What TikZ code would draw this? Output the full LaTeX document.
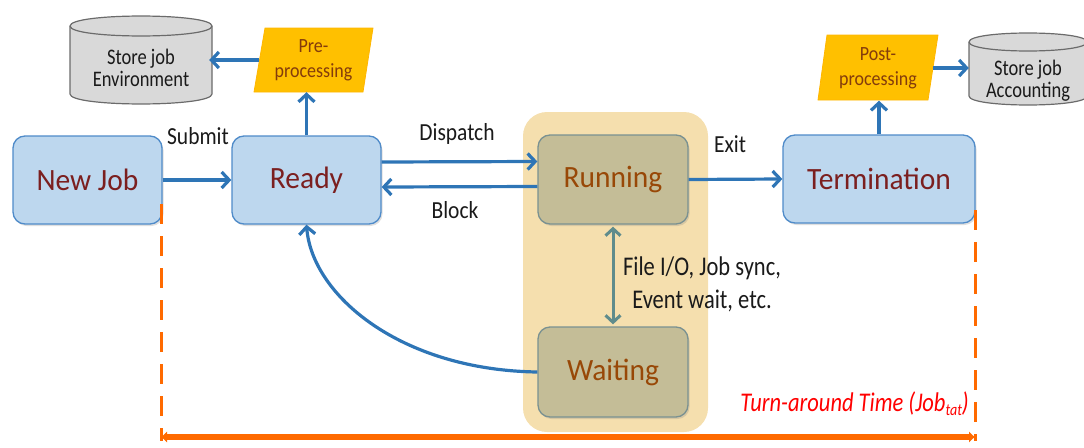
\documentclass[tikz,border=0pt]{standalone}
\usepackage{fontspec}
\usepackage{graphicx}
\setmainfont{Carlito}
\usetikzlibrary{arrows.meta,shadows}

\definecolor{boxfill}{HTML}{BDD7EE}
\definecolor{boxline}{HTML}{4F8BC9}
\definecolor{flowblue}{HTML}{2E75B6}
\definecolor{runfill}{HTML}{C4BD97}
\definecolor{runline}{HTML}{7A9191}
\definecolor{syncline}{HTML}{5F8C8C}
\definecolor{hlfill}{HTML}{F5DFAE}
\definecolor{gold}{HTML}{FFC000}
\definecolor{cylfill}{HTML}{D9D9D9}
\definecolor{cylline}{HTML}{6B6B6B}
\definecolor{boxtext}{HTML}{7B1F1F}
\definecolor{runtext}{HTML}{984807}
\definecolor{goldtext}{HTML}{843C0C}
\definecolor{tatorange}{HTML}{FF6A00}
\definecolor{labeltext}{HTML}{1A1A1A}

% text set slightly taller than its natural proportions
\newcommand{\vstr}[2]{\scalebox{1}[#1]{#2}}
\newcommand{\vstack}[2]{\scalebox{1}[#1]{\begin{tabular}{@{}c@{}}#2\end{tabular}}}

\begin{document}
\begin{tikzpicture}[x=1pt,y=-1pt,
  statebox/.style={rounded corners=12pt, inner sep=0pt, line width=1.3pt,
    drop shadow={opacity=0.25, shadow xshift=1.5pt, shadow yshift=-2pt},
    font=\fontsize{29.5}{32}\selectfont},
  bluebox/.style={statebox, fill=boxfill, draw=boxline, text=boxtext},
  graybox/.style={statebox, fill=runfill, draw=runline, text=runtext},
  flow/.style={draw=flowblue, line width=3.2pt, -{Straight Barb[length=7.5pt,width=16pt]}},
  sync/.style={draw=syncline, line width=3pt, {Straight Barb[length=7pt,width=15pt]}-{Straight Barb[length=7pt,width=15pt]}},
  lbl/.style={text=labeltext, inner sep=0pt, font=\fontsize{21.5}{24}\selectfont},
  cyltxt/.style={inner sep=0pt, text=labeltext, font=\fontsize{18.5}{17.5}\selectfont},
  goldtxt/.style={inner sep=0pt, text=goldtext, font=\fontsize{18}{22.3}\selectfont},
  goldshape/.style={fill=gold, draw=gold!85!orange, line width=0.8pt},
  cylshape/.style={fill=cylfill, draw=cylline, line width=1.2pt},
  tatdash/.style={draw=tatorange, line width=3pt, dash pattern=on 20pt off 12pt},
  tatarrow/.style={draw=tatorange, line width=6pt, {Latex[length=6pt,width=12pt]}-{Latex[length=6pt,width=12pt]}}
]
\useasboundingbox (0,0) rectangle (1084,447);

% highlight behind the active states
\fill[hlfill, rounded corners=24pt] (523,112) rectangle (708,432);

% states
\node[bluebox, minimum width=149pt, minimum height=88pt] (new) at (87.5,180) {\vstr{1.05}{New Job}};
\node[bluebox, minimum width=149pt, minimum height=88pt] (ready) at (306.5,180) {\vstr{1.05}{Ready}};
\node[graybox, minimum width=150pt, minimum height=89pt] (run) at (613,179.5) {\vstr{1.05}{Running}};
\node[graybox, minimum width=150pt, minimum height=90pt] (wait) at (613,372) {\vstr{1.05}{Waiting}};
\node[bluebox, minimum width=192pt, minimum height=88pt] (term) at (879,179) {\vstr{1.05}{Termination}};

% storage cylinders
\path[cylshape] (70,26) -- (70,94) .. controls (70,107.3) and (212,107.3) .. (212,94)
  -- (212,26) .. controls (212,12.7) and (70,12.7) .. (70,26) -- cycle;
\draw[cylline, line width=1.2pt] (70,26) .. controls (70,39.3) and (212,39.3) .. (212,26);
\node[minimum width=142pt, minimum height=88pt, inner sep=0pt] (env) at (141,60) {};
\node[cyltxt] (envtxt) at (141,71) {\vstack{1.2}{Store job\\Environment}};

\path[cylshape] (969,42) -- (969,96) .. controls (969,108) and (1087,108) .. (1087,96)
  -- (1087,42) .. controls (1087,30) and (969,30) .. (969,42) -- cycle;
\draw[cylline, line width=1.2pt] (969,42) .. controls (969,54) and (1087,54) .. (1087,42);
\node[minimum width=118pt, minimum height=72pt, inner sep=0pt] (acc) at (1028,68) {};
\node[cyltxt] (acctxt) at (1028,82) {\vstack{1.2}{Store job\\Accounting}};

% pre- and post-processing
\path[goldshape] (265,28) -- (373,28) -- (363,92) -- (254,92) -- cycle;
\node[goldtxt, minimum width=108pt, minimum height=64pt] (pre) at (313.5,60) {\vstack{1.12}{Pre-\\processing}};
\path[goldshape] (827,35) -- (938,35) -- (928,100) -- (818,100) -- cycle;
\node[goldtxt, minimum width=110pt, minimum height=65pt] (post) at (878,68) {\vstack{1.12}{Post-\\processing}};

% transitions
\draw[flow] (new.east) -- (ready.west);
\node[lbl] (submit) at (198,136) {\vstr{1.14}{Submit}};
\draw[flow] ([yshift=18pt]ready.east) -- ([yshift=18pt]run.west);
\node[lbl] (dispatch) at (457,134) {\vstr{1.14}{Dispatch}};
\draw[flow] ([yshift=-7pt]run.west) -- ([yshift=-7pt]ready.east);
\node[lbl] (block) at (455,210) {\vstr{1.14}{Block}};
\draw[flow] (run.east) -- (term.west);
\node[lbl] (exit) at (730,144) {\vstr{1.14}{Exit}};
\draw[flow] (ready.north) -- (ready.north |- pre.south);
\draw[flow, shorten >=-3pt] (pre.west) -- (env.east);
\draw[flow] (term.north) -- (term.north |- post.south);
\draw[flow] (post.east) -- (acc.west);
\draw[sync, shorten <=2pt, shorten >=2pt] (run.south) -- (wait.north);
\node[lbl, font=\fontsize{22.5}{27.5}\selectfont] (synctxt) at (702,285) {\vstack{1.2}{File I/O, Job sync,\\Event wait, etc.}};
\draw[flow] (wait.west) .. controls (400,370) and (312,295) .. (ready.south);

% turn-around time span
\coordinate (tatL0) at (161,204);
\coordinate (tatL1) at (161,441);
\coordinate (tatR0) at (975,210);
\coordinate (tatR1) at (975,441);
\coordinate (tatA) at (161,437);
\coordinate (tatB) at (975,437);
\draw[tatdash] (tatL0) -- (tatL1);
\draw[tatdash] (tatR0) -- (tatR1);
\draw[tatarrow] (tatA) -- (tatB);
\node[inner sep=0pt, anchor=east, text=red, font=\itshape\fontsize{22.5}{24}\selectfont] (tat) at (969,404)
  {\vstr{1.2}{Turn-around Time (Job\raisebox{-3.5pt}{\fontsize{14}{14}\selectfont tat})}};
\end{tikzpicture}
\end{document}
